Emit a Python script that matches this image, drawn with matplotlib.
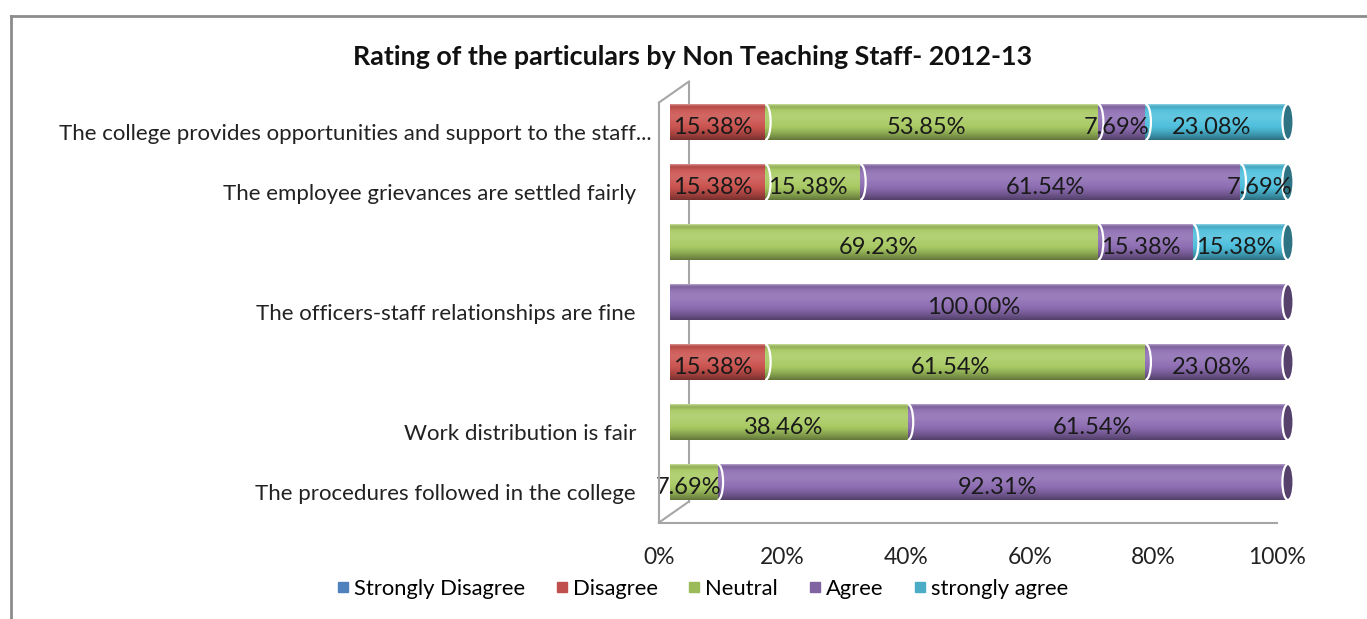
import numpy as np
import matplotlib
matplotlib.use("Agg")
import matplotlib.pyplot as plt
from matplotlib.transforms import ScaledTranslation, blended_transform_factory
from matplotlib.patches import Ellipse, Arc
from matplotlib.lines import Line2D
from matplotlib.colors import to_rgb

# ---------------- data ----------------
title = "Rating of the particulars by Non Teaching Staff- 2012-13"
categories = [
    "The college provides opportunities and support to the staff...",
    "The employee grievances are settled fairly",
    "",
    "The officers-staff relationships are fine",
    "",
    "Work distribution is fair",
    "The procedures followed in the college",
]
series_names = ["Strongly Disagree", "Disagree", "Neutral", "Agree", "strongly agree"]
strongly_disagree = [0, 0, 0, 0, 0, 0, 0]
disagree = [15.38, 15.38, 0, 0, 15.38, 0, 0]
neutral = [53.85, 15.38, 69.23, 0, 61.54, 38.46, 7.69]
agree = [7.69, 61.54, 15.38, 100.00, 23.08, 61.54, 92.31]
strongly_agree = [23.08, 7.69, 15.38, 0, 0, 0, 0]
xticks = [0, 20, 40, 60, 80, 100]
xtick_labels = ["0%", "20%", "40%", "60%", "80%", "100%"]

# ---------------- style ----------------
colors = ["#4F81BD", "#C0504D", "#9BBB59", "#8064A2", "#4BACC6"]
bar_colors = ["#4F81BD", "#CB524E", "#A8CA62", "#8D6DB3", "#4DBFDC"]
FONT = "Lato"
W, H = 1367, 619
fig = plt.figure(figsize=(W / 100, H / 100), dpi=100)
fig.patch.set_facecolor("white")

ax = fig.add_axes([670 / W, 1 - 512 / H, 618 / W, 420 / H])
ax.set_xlim(0, 100)
ax.set_ylim(6.5, -0.5)
ax.axis("off")

series = [strongly_disagree, disagree, neutral, agree, strongly_agree]
data = np.array(series, dtype=float)  # (5, 7)
rows = np.arange(len(categories))
bh = 0.6

def off(dx_px, dy_px):
    return ScaledTranslation(dx_px / 100, -dy_px / 100, fig.dpi_scale_trans)

# stacked bars
lefts = np.zeros(len(categories))
for j, vals in enumerate(data):
    ax.barh(rows, vals, left=lefts, height=bh, color=bar_colors[j],
            edgecolor="none", zorder=2)
    lefts = lefts + vals

# cylinder shading overlay
t = np.linspace(0, 1, 128)
w = 0.12 * np.exp(-((t - 0.35) / 0.2) ** 2) + 0.35 * np.exp(-((t - 0.0) / 0.04) ** 2)
b = 0.42 * np.clip((t - 0.6) / 0.4, 0, 1) ** 1.4 + 0.12 * np.exp(-((t - 0.08) / 0.06) ** 2)
a = w + b
c = np.where(a > 0, w / np.maximum(a, 1e-9), 0)
grad = np.zeros((len(t), 1, 4))
grad[:, 0, 0] = c
grad[:, 0, 1] = c
grad[:, 0, 2] = c
grad[:, 0, 3] = a
for i in rows:
    total = data[:, i].sum()
    ax.imshow(grad, extent=(0, total, i + bh / 2, i - bh / 2), aspect="auto",
              interpolation="bilinear", zorder=3)
ax.set_xlim(0, 100)
ax.set_ylim(6.5, -0.5)

cap_w = 1.8
label_tr = ax.transData + off(-5, 5)
for i in rows:
    cum = 0.0
    last_color = None
    for j in range(len(series)):
        v = data[j, i]
        if v <= 0:
            continue
        if cum > 0:
            ax.add_patch(Arc((cum, i), cap_w, bh, theta1=-90, theta2=90,
                             color="white", lw=1.6, zorder=4))
        ax.text(cum + v / 2, i, f"{v:.2f}%", ha="center", va="center",
                fontsize=17, family=FONT, color="#1a1a1a", zorder=6,
                transform=label_tr)
        cum += v
        last_color = bar_colors[j]
    cap = tuple(np.array(to_rgb(last_color)) * 0.6)
    ax.add_patch(Ellipse((cum, i), cap_w, bh, facecolor=cap, edgecolor="white",
                         lw=1.6, zorder=5, clip_on=False))

# category labels
cat_tr_base = blended_transform_factory(ax.transAxes, ax.transData)
for i, lab in enumerate(categories):
    if not lab:
        continue
    dx = -18 if lab.endswith("...") else -34
    ax.text(0, i, lab, ha="right", va="center", fontsize=16, family=FONT,
            color="#222222", transform=cat_tr_base + off(dx, 12))

# x tick labels (front plane)
tick_tr = blended_transform_factory(ax.transData, ax.transAxes) + off(-11, 10.5 + 35)
for v, s in zip(xticks, xtick_labels):
    ax.text(v, 0, s, ha="center", va="center", fontsize=16.5, family=FONT,
            color="#222222", transform=tick_tr)

# 3D wall / floor lines
front_tr = ax.transAxes + off(-11, 10.5)
back_tr = ax.transAxes + off(19, -10.5)
inv = fig.transFigure.inverted()
def fpt(tr, x, y):
    return inv.transform(tr.transform((x, y)))
gray = "#A6A6A6"
segs_front = [((0, 0), (0, 1)), ((0, 0), (1, 0))]
for p, q in segs_front:
    P, Q = fpt(front_tr, *p), fpt(front_tr, *q)
    fig.add_artist(Line2D([P[0], Q[0]], [P[1], Q[1]], color=gray, lw=1.5,
                          transform=fig.transFigure))
for y in (0, 1):
    P, Q = fpt(front_tr, 0, y), fpt(back_tr, 0, y)
    fig.add_artist(Line2D([P[0], Q[0]], [P[1], Q[1]], color=gray, lw=1.5,
                          transform=fig.transFigure))
P, Q = fpt(back_tr, 0, 0), fpt(back_tr, 0, 1)
ax.add_line(Line2D([P[0], Q[0]], [P[1], Q[1]], color=gray, lw=1.5,
                   transform=fig.transFigure, clip_on=False, zorder=1))

# title
fig.text(693 / W, 1 - 57 / H, title, ha="center", va="center", fontsize=19.4,
         fontweight="bold", family=FONT, color="#111111")

# legend
handles = [Line2D([], [], marker="s", ls="", color=c, markersize=7.5) for c in colors]
fig.legend(handles, series_names, loc="center", bbox_to_anchor=(701 / W, 1 - 589 / H),
           ncol=5, frameon=False, handletextpad=0.1, columnspacing=1.27,
           handlelength=0.8, prop={"family": FONT, "size": 15.8})

# outer chart frame
fig.add_artist(Line2D([11 / W, 11 / W], [0, 1 - 16 / H], color="#8C8C8C", lw=2,
                      transform=fig.transFigure))
fig.add_artist(Line2D([11 / W, 1], [1 - 16 / H, 1 - 16 / H], color="#8C8C8C", lw=2,
                      transform=fig.transFigure))

fig.savefig("out.png", dpi=100, facecolor="white")
